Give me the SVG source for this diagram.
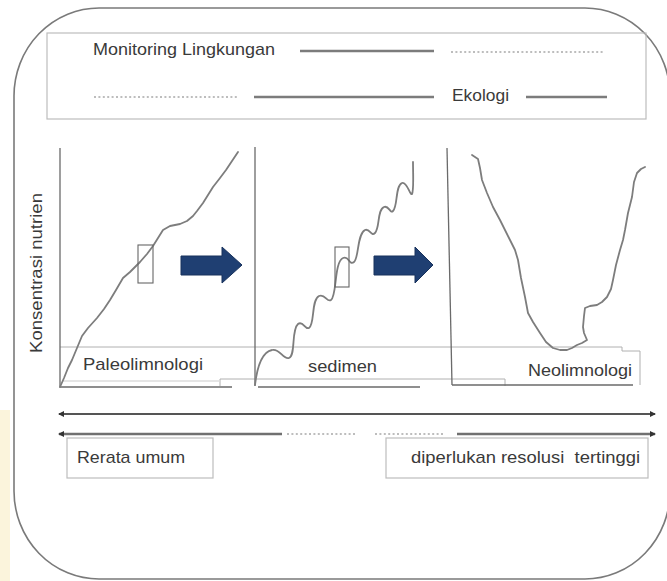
<svg xmlns="http://www.w3.org/2000/svg" width="667" height="581" viewBox="0 0 667 581">
<style>
  text { font-family: "Liberation Sans", Arial, sans-serif; font-size: 17px; fill: #3a3a3a; }
  .frame { fill: none; stroke: #7a7a7a; stroke-width: 1.6; }
  .box { fill: none; stroke: #bdbdbd; stroke-width: 1.2; }
  .axis { fill: none; stroke: #6a6a6a; stroke-width: 1.3; }
  .band { fill: none; stroke: #b0b0b0; stroke-width: 1; }
  .curve { fill: none; stroke: #7d7d7d; stroke-width: 1.8; stroke-linejoin: round; stroke-linecap: round; }
  .solid { stroke: #7c7c7c; stroke-width: 2.4; }
  .dot { stroke: #a8a8a8; stroke-width: 1.6; stroke-dasharray: 2 2.4; }
  .rule { stroke: #555; stroke-width: 1.8; }
  .rule2 { stroke: #707070; stroke-width: 2.4; }
  .blue { fill: #1f3f72; stroke: #18325c; stroke-width: 1; }
  .zoombox { fill: none; stroke: #666; stroke-width: 1.1; }
</style>
<defs>
  <marker id="ah" viewBox="0 0 6 6" refX="5" refY="3" markerWidth="6" markerHeight="6" markerUnits="userSpaceOnUse" orient="auto-start-reverse">
    <path d="M0,0 L6,3 L0,6 z" fill="#333"/>
  </marker>
</defs>
<rect x="0" y="0" width="667" height="581" fill="#ffffff"/>
<rect x="0" y="410" width="10" height="171" fill="#fbf4dc"/>
<rect id="frame" class="frame" x="14" y="8" width="656" height="571" rx="85" ry="88"/>

<g id="top-box">
  <rect class="box" x="47" y="33" width="599" height="86"/>
  <text x="93" y="55" textLength="182" lengthAdjust="spacingAndGlyphs">Monitoring Lingkungan</text>
  <line class="solid" x1="300" y1="51" x2="434" y2="51"/>
  <line class="dot" x1="451" y1="52" x2="605" y2="52"/>
  <line class="dot" x1="94" y1="97" x2="238" y2="97"/>
  <line class="solid" x1="254" y1="97" x2="434" y2="97"/>
  <text x="452" y="101" textLength="57" lengthAdjust="spacingAndGlyphs">Ekologi</text>
  <line class="solid" x1="526" y1="97" x2="607" y2="97"/>
</g>

<g id="y-label">
  <text transform="translate(42,353) rotate(-90)" x="0" y="0" textLength="160" lengthAdjust="spacingAndGlyphs">Konsentrasi nutrien</text>
</g>

<g id="label-bands">
  <path class="band" d="M60,347 H622 V351 H640 V385"/>
  <path class="band" d="M220,386 V379 H505 V386"/>
  <line x1="63" y1="381" x2="220" y2="381" stroke="#dcdcdc" stroke-width="1.5"/>
</g>

<g id="panel-paleo">
  <path class="axis" d="M60,148 V387 H232"/>
  <polyline class="curve" points="60,387 64,378 68,368 72,360 77,348 82,336 88,328 97,318 104,309 110,300 116,290 123,278 130,272 140,262 147,254 153,246 158,238 163,230 170,226 180,224 187,221 193,216 197,211 203,203 208,195 213,187 220,178 226,170 232,161 238,152"/>
  <rect class="zoombox" x="138" y="245" width="15" height="38"/>
  <text x="83" y="370" textLength="120" lengthAdjust="spacingAndGlyphs">Paleolimnologi</text>
</g>

<g id="panel-sedimen">
  <path class="axis" d="M255,147 V386"/>
  <line class="axis" x1="258" y1="387" x2="420" y2="387"/>
  <path class="curve" d="M255,385 C257,368 262,352 272,350 C280,348 283,360 289,358 C296,355 291,330 298,324 C303,320 305,330 309,328 C315,324 311,300 319,296 C325,293 327,303 331,300 C337,296 334,262 343,258 C349,255 349,266 354,262 C359,258 357,234 365,230 C370,228 371,237 375,233 C380,228 377,210 384,207 C389,205 390,214 393,211 C398,206 395,186 402,183 C407,181 410,196 412,194 C414,190 413,175 413,162"/>
  <rect class="zoombox" x="335" y="247" width="14" height="40"/>
  <text x="308" y="372" textLength="69" lengthAdjust="spacingAndGlyphs">sedimen</text>
</g>

<g id="panel-neo">
  <line class="axis" x1="447" y1="148" x2="452" y2="385"/>
  <line class="axis" x1="452" y1="385" x2="633" y2="385"/>
  <polyline class="curve" points="472,155 478,159 480,168 482,180 487,193 493,207 500,220 510,240 515,250 518,260 521,278 525,297 528,313 533,322 540,333 546,342 553,348 560,350 567,350 572,348 577,345 582,343 587,340 584,333 583,327 584,316 585,308 590,306 597,305 602,302 607,297 611,289 613,280 616,265 620,250 623,240 625,230 628,213 632,197 634,182 637,173 641,169 645,167"/>
  <text x="528" y="376" textLength="104" lengthAdjust="spacingAndGlyphs">Neolimnologi</text>
</g>

<g id="arrow-1">
  <path class="blue" d="M181,256 H222 V247 L242,265 L222,283 V275 H181 Z"/>
</g>
<g id="arrow-2">
  <path class="blue" d="M374,256 H415 V247 L433,265 L415,283 V275 H374 Z"/>
</g>

<g id="connectors">
  <line class="rule" x1="59" y1="414" x2="655" y2="414" marker-start="url(#ah)" marker-end="url(#ah)"/>
  <line class="rule2" x1="59" y1="434" x2="282" y2="434" marker-start="url(#ah)"/>
  <line class="dot" x1="287" y1="434" x2="355" y2="434"/>
  <line class="dot" x1="375" y1="434" x2="443" y2="434"/>
  <line class="rule2" x1="457" y1="434" x2="655" y2="434" marker-end="url(#ah)"/>
</g>

<g id="box-rerata">
  <rect class="box" x="67" y="438" width="146" height="40"/>
  <text x="77" y="463" textLength="108" lengthAdjust="spacingAndGlyphs">Rerata umum</text>
</g>
<g id="box-resolusi">
  <rect class="box" x="386" y="438" width="262" height="40"/>
  <text x="411" y="463" textLength="229" lengthAdjust="spacingAndGlyphs" xml:space="preserve">diperlukan resolusi  tertinggi</text>
</g>
</svg>
